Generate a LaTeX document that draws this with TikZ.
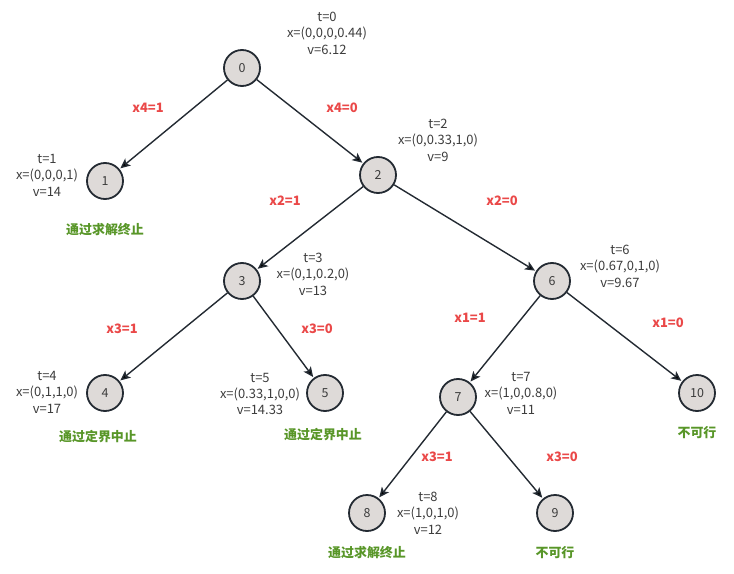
\documentclass[tikz,border=0pt]{standalone}
\usepackage{fontspec}
\setmainfont{Noto Sans CJK SC}
\usetikzlibrary{arrows.meta}
\definecolor{nodefill}{RGB}{222,218,216}
\definecolor{nodeedge}{RGB}{35,42,50}
\definecolor{textgray}{RGB}{60,60,60}
\definecolor{labelred}{RGB}{234,72,72}
\definecolor{okgreen}{RGB}{88,150,40}
\begin{document}
\begin{tikzpicture}[x=1bp,y=-1bp,>={Stealth[length=10bp,width=9bp,inset=2.5bp]},shorten >=1pt,
  state/.style={circle,draw=nodeedge,fill=nodefill,line width=1.8bp,minimum size=36bp,inner sep=0pt,text=textgray,font=\fontsize{12.5}{14}\selectfont},
  info/.style={align=center,text=textgray,inner sep=0pt,font=\fontsize{13}{16.5}\selectfont},
  choice/.style={text=labelred,inner sep=0pt,font=\bfseries\fontsize{13}{14}\selectfont},
  verdict/.style={text=okgreen,inner sep=0pt,font=\bfseries\fontsize{13}{14}\selectfont}]

\useasboundingbox (0,0) rectangle (734,574);

\node[state] (n0)  at (242,68)  {0};
\node[state] (n1)  at (105,181) {1};
\node[state] (n2)  at (378,175) {2};
\node[state] (n3)  at (242,281) {3};
\node[state] (n6)  at (552,281) {6};
\node[state] (n4)  at (105,393) {4};
\node[state] (n5)  at (325,393) {5};
\node[state] (n7)  at (458,397) {7};
\node[state] (n10) at (697,393) {10};
\node[state] (n8)  at (367,513) {8};
\node[state] (n9)  at (555,513) {9};

% relaxation results
\node[info] (i0) at (327,33)  {t=0\\x=(0,0,0,0.44)\\v=6.12};
\node[info] (i1) at (47,175)  {t=1\\x=(0,0,0,1)\\v=14};
\node[info] (i2) at (438,140) {t=2\\x=(0,0.33,1,0)\\v=9};
\node[info] (i3) at (313,274) {t=3\\x=(0,1,0.2,0)\\v=13};
\node[info] (i6) at (620,266) {t=6\\x=(0.67,0,1,0)\\v=9.67};
\node[info] (i4) at (47,392)  {t=4\\x=(0,1,1,0)\\v=17};
\node[info] (i5) at (260,394) {t=5\\x=(0.33,1,0,0)\\v=14.33};
\node[info] (i7) at (521,393) {t=7\\x=(1,0,0.8,0)\\v=11};
\node[info] (i8) at (428,513) {t=8\\x=(1,0,1,0)\\v=12};

% why a branch stops
\node[verdict] (s1)  at (105,230) {通过求解终止};
\node[verdict] (s4)  at (98,437)  {通过定界中止};
\node[verdict] (s5)  at (323,435) {通过定界中止};
\node[verdict] (s10) at (697,433) {不可行};
\node[verdict] (s8)  at (367,553) {通过求解终止};
\node[verdict] (s9)  at (555,553) {不可行};

\path[->,draw=nodeedge,line width=1.4bp]
  (n0) edge node[choice,xshift=-25.5bp,yshift=16.5bp] {x4=1} (n1)
       edge node[choice,xshift=32bp,yshift=13.5bp]    {x4=0} (n2)
  (n2) edge node[choice,xshift=-25bp,yshift=27bp]     {x2=1} (n3)
       edge node[choice,xshift=37bp,yshift=27bp]      {x2=0} (n6)
  (n3) edge node[choice,xshift=-51.5bp,yshift=8bp]    {x3=1} (n4)
       edge node[choice,xshift=33.5bp,yshift=8bp]     {x3=0} (n5)
  (n6) edge node[choice,xshift=-35bp,yshift=21bp]     {x1=1} (n7)
       edge node[choice,xshift=43.5bp,yshift=14bp]    {x1=0} (n10)
  (n7) edge node[choice,xshift=24.5bp,yshift=-2bp]    {x3=1} (n8)
       edge node[choice,xshift=55.5bp,yshift=-2bp]    {x3=0} (n9);

\end{tikzpicture}
\end{document}
